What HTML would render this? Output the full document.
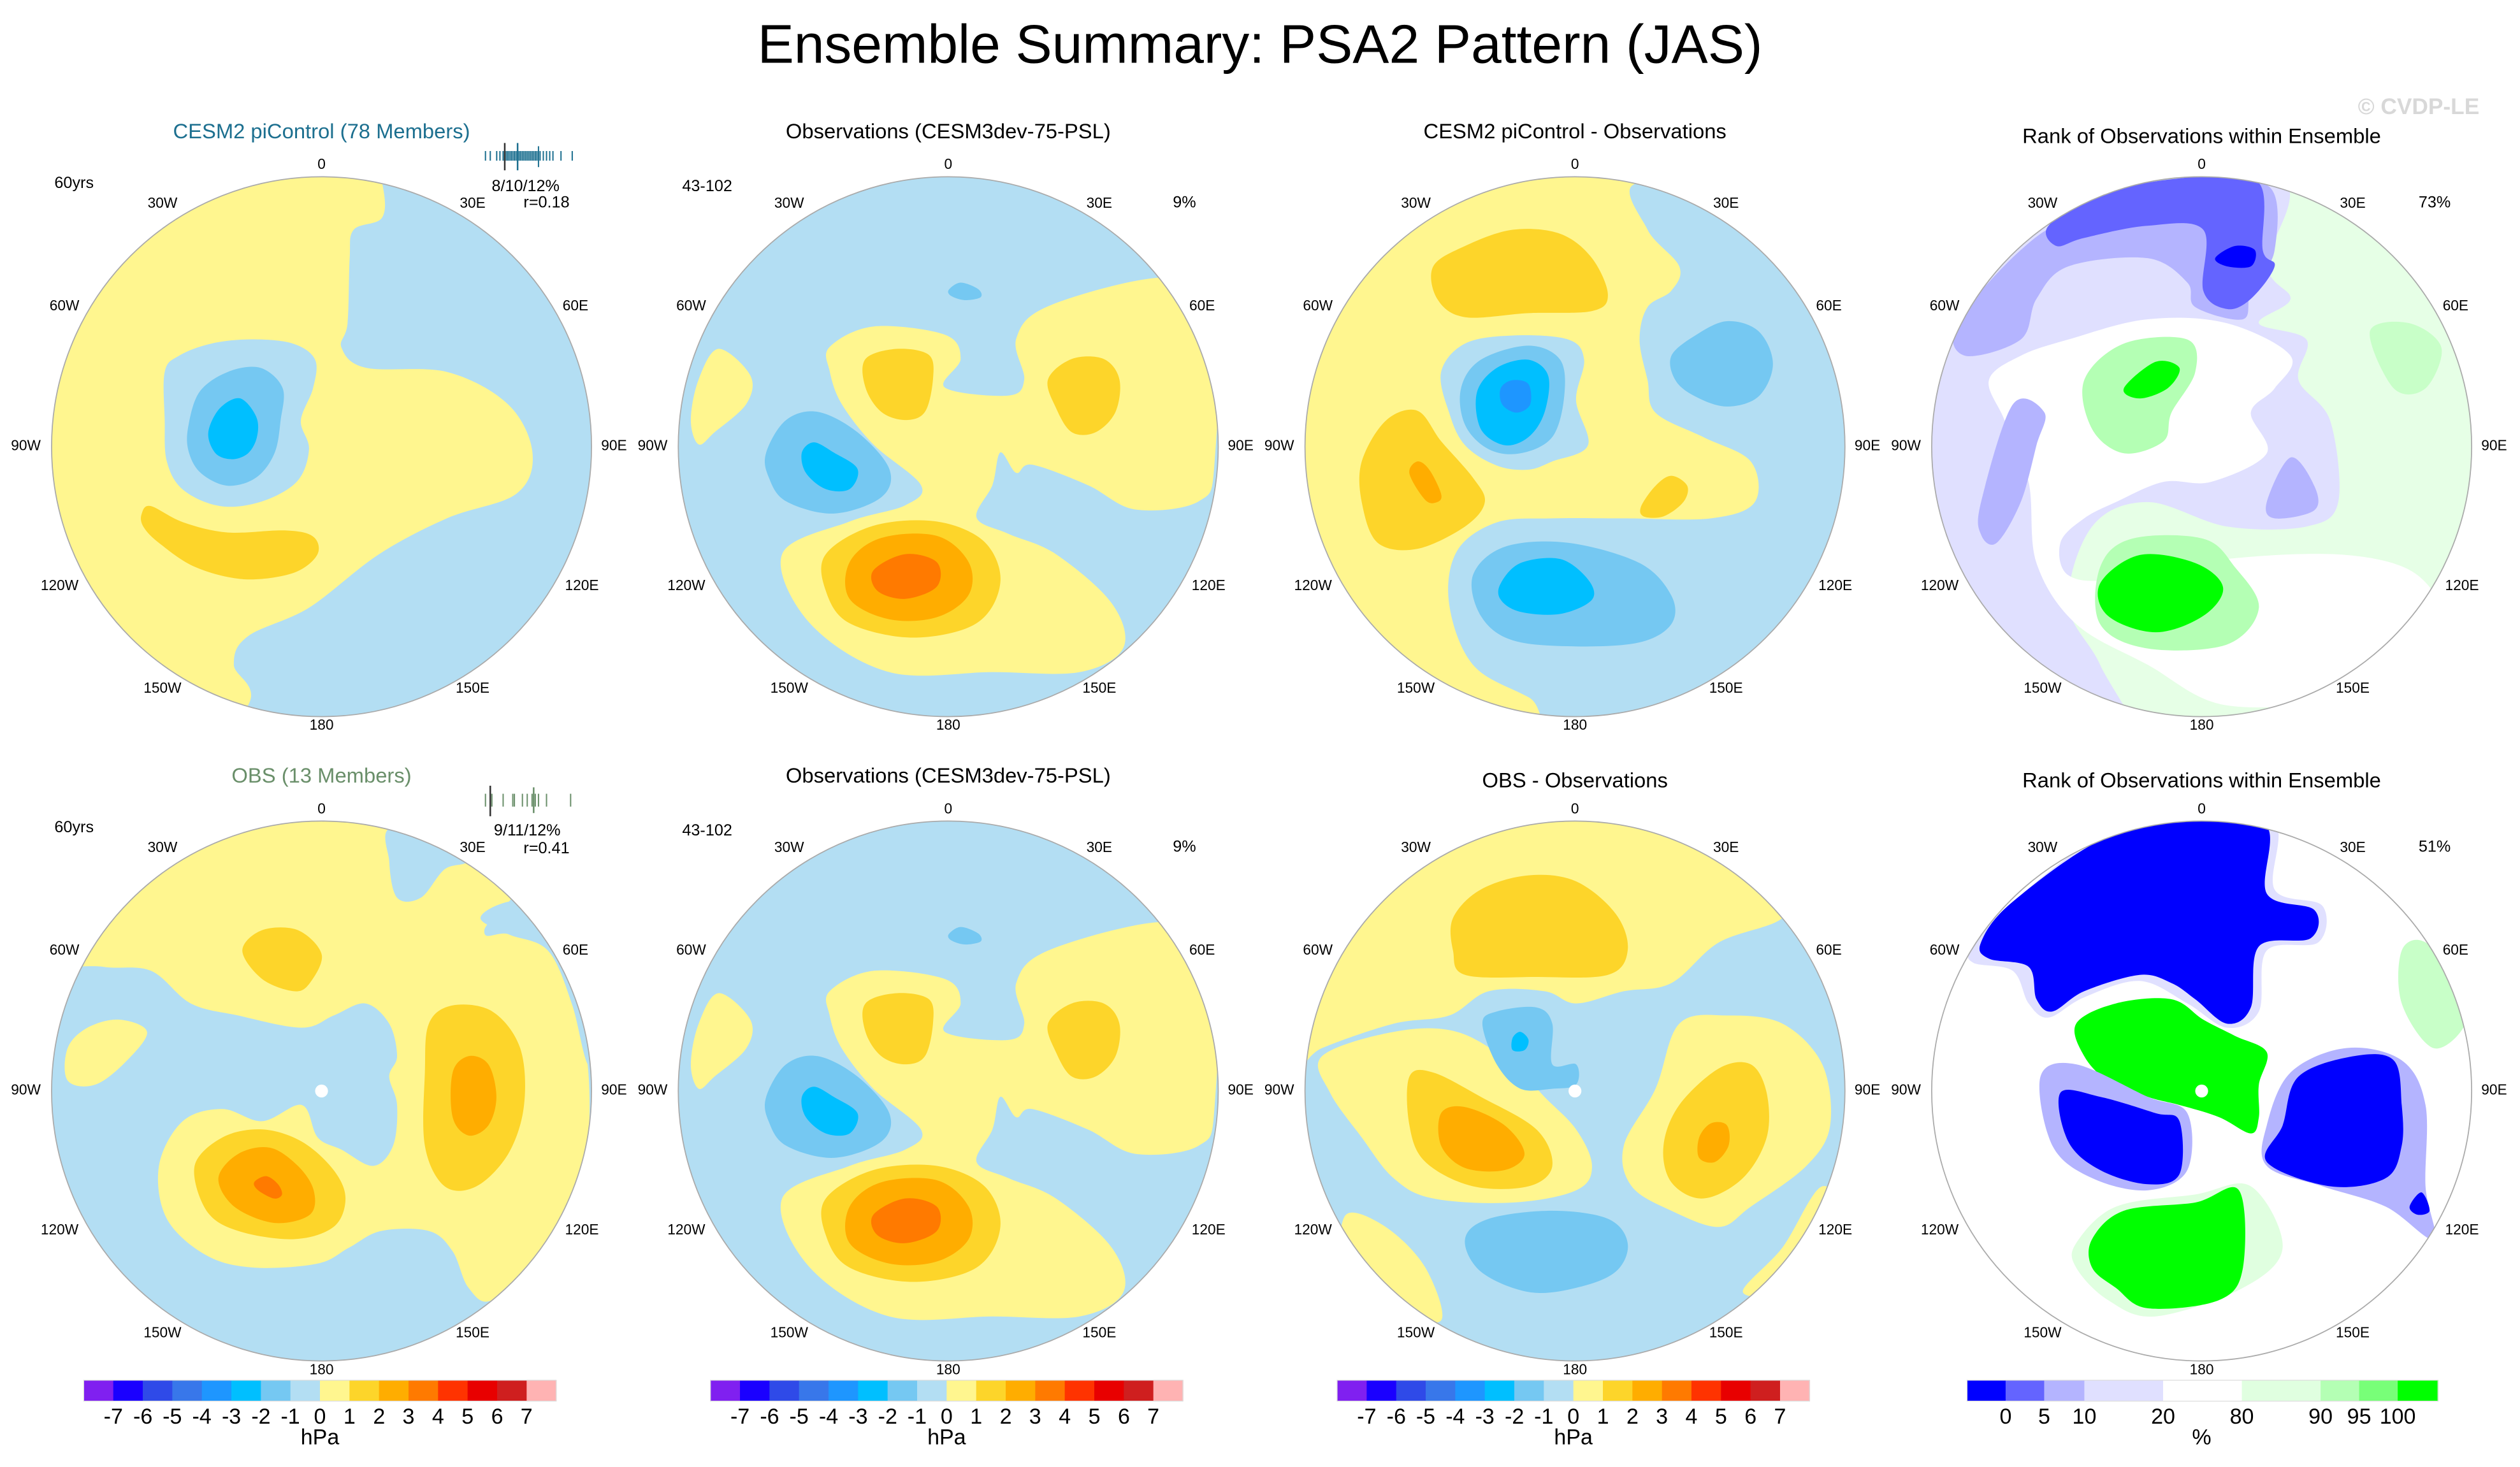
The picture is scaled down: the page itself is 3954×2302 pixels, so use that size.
<!DOCTYPE html>
<html><head><meta charset="utf-8"><title>Ensemble Summary: PSA2 Pattern (JAS)</title>
<style>html,body{margin:0;padding:0;background:#fff}svg{display:block}text{font-family:"Liberation Sans",sans-serif}</style>
</head><body>
<svg id="fig" xmlns="http://www.w3.org/2000/svg" width="3954" height="2302" viewBox="0 0 1568 913">
<rect width="1568" height="913" fill="#fff"/>
<text x="784" y="39" font-size="34" text-anchor="middle">Ensemble Summary: PSA2 Pattern (JAS)</text>
<text x="1505" y="71" font-size="14" font-weight="bold" fill="#d8d8d8" text-anchor="middle">© CVDP-LE</text>
<g id="panels"></g>
<g id="bars"></g>
</svg>
<script>
const hpaColors=['#8020f0','#1a00ff','#2f4ae8','#3877ea','#1e96ff','#00bfff','#75c8f2','#b3def3','#fff68f','#fdd52a','#ffad00','#ff7a00','#ff3300','#e80000','#cf1f1f','#ffb3b3'];
const hpaLabels=['-7','-6','-5','-4','-3','-2','-1','0','1','2','3','4','5','6','7'];
const rankColors=['#0000ff','#6464ff','#b4b4ff','#e0e0ff','#ffffff','#e0ffe0','#b4ffb4','#78ff78','#00ff00'];
const rankLabels=['0','5','10','20','80','90','95','100'];
const rankEdges=[1224,1248,1272,1297,1346,1395,1444,1468,1492,1517];
const lonLabels=['0','30E','60E','90E','120E','150E','180','150W','120W','90W','60W','30W'];
const lonOffX=[0,94,158,182,162,94,0,-99,-163,-184,-160,-99];
const lonOffY=[-176,-152,-88,-1,86,150,173,150,86,-1,-88,-152];

const NS='http://www.w3.org/2000/svg';
function mk(tag,attrs,parent){const e=document.createElementNS(NS,tag);for(const k in attrs)e.setAttribute(k,attrs[k]);if(parent)parent.appendChild(e);return e;}
function smooth(pts){let d='';const n=pts.length;for(let i=0;i<n;i++){const p0=pts[(i-1+n)%n],p1=pts[i],p2=pts[(i+1)%n],p3=pts[(i+2)%n];if(i===0)d+='M'+p1[0].toFixed(1)+','+p1[1].toFixed(1);const c1=[p1[0]+(p2[0]-p0[0])/6,p1[1]+(p2[1]-p0[1])/6],c2=[p2[0]-(p3[0]-p1[0])/6,p2[1]-(p3[1]-p1[1])/6];d+='C'+c1[0].toFixed(1)+','+c1[1].toFixed(1)+' '+c2[0].toFixed(1)+','+c2[1].toFixed(1)+' '+p2[0].toFixed(1)+','+p2[1].toFixed(1);}return d+'Z';}
const Z1=p=>[p[0]*0.2529,59.5+p[1]*0.2529];
const Z3=p=>[793+p[0]*0.494,59.5+p[1]*0.253];
const Z4=p=>[p[0]*0.494,460+p[1]*0.253];
const Z5=p=>[793+p[0]*0.494,460+p[1]*0.253];
const T2=p=>[p[0]*0.494,59+p[1]*0.253];
const LB='#b3def3',YL='#fff68f',Y2='#fdd52a',O3='#ffad00',O4='#ff7a00',B2='#75c8f2',B3='#00bfff',B4='#1e96ff';

const p1Shapes=[
[YL,[[940,215],[940,300],[870,330],[860,400],[855,560],[840,620],[900,670],[1100,680],[1250,760],[1310,880],[1270,980],[1100,1040],[930,1130],[760,1260],[610,1330],[575,1400],[610,1500],[400,1700],[-100,900],[400,50],[900,100]]],
[LB,[[405,680],[440,640],[520,610],[620,600],[720,610],[775,650],[770,720],[740,800],[760,870],[730,950],[640,1000],[540,1010],[450,970],[410,900],[405,800]]],
[B2,[[462,820],[490,730],[560,680],[640,670],[695,720],[690,800],[675,880],[630,940],[560,960],[495,930],[465,880]]],
[B3,[[512,830],[540,770],[590,745],[630,790],[632,840],[610,880],[570,895],[530,880]]],
[Y2,[[348,1030],[370,1010],[450,1050],[560,1075],[700,1070],[770,1085],[780,1130],[720,1175],[600,1190],[480,1160],[390,1100],[352,1060]]]
];
const p2Shapes=[
[YL,[[1045,620],[1100,570],[1190,590],[1210,650],[1190,720],[1270,740],[1290,700],[1280,600],[1320,520],[1460,450],[1530,500],[1530,900],[1510,1000],[1430,1020],[1370,960],[1300,910],[1280,930],[1260,880],[1250,960],[1230,1040],[1270,1080],[1330,1130],[1400,1250],[1415,1360],[1360,1420],[1250,1420],[1120,1420],[1020,1300],[985,1130],[1070,1050],[1140,1010],[1160,960],[1100,860],[1060,760],[1045,680]]],
[YL,[[905,625],[945,690],[940,760],[900,830],[880,860],[870,800],[880,700]]],
[Y2,[[1090,650],[1130,625],[1170,640],[1175,700],[1165,780],[1140,800],[1110,780],[1090,720]]],
[Y2,[[1320,700],[1350,650],[1390,650],[1410,700],[1405,780],[1380,830],[1350,830],[1330,770]]],
[Y2,[[1040,1130],[1100,1060],[1180,1050],[1240,1100],[1260,1200],[1230,1300],[1150,1335],[1070,1300],[1040,1220]]],
[O3,[[1070,1150],[1110,1090],[1180,1085],[1220,1150],[1220,1230],[1180,1285],[1120,1290],[1070,1240]]],
[O4,[[1100,1170],[1140,1130],[1180,1150],[1180,1210],[1140,1240],[1105,1220]]],
[B2,[[965,880],[990,800],[1030,780],[1080,830],[1120,920],[1110,990],[1050,1030],[990,1000],[968,940]]],
[B3,[[1010,880],[1025,855],[1050,880],[1080,920],[1070,970],[1040,970],[1015,930]]],
[B2,[[1195,480],[1210,462],[1232,478],[1235,498],[1215,505],[1198,495]]]
];
const p3Shapes=[
[LB,[[460,215],[470,330],[510,420],[500,480],[470,520],[460,600],[470,700],[480,780],[540,840],[600,900],[605,1000],[550,1040],[440,1040],[350,1040],[280,1050],[230,1120],[220,1250],[250,1400],[320,1480],[400,1560],[800,1300],[760,800],[650,300]]],
[LB,[[210,680],[240,610],[300,590],[370,600],[390,650],[380,750],[395,860],[350,900],[320,920],[280,910],[240,860],[220,780]]],
[B2,[[235,720],[260,650],[320,615],[360,650],[365,740],[350,840],[310,880],[270,870],[240,810]]],
[B3,[[255,730],[280,670],[320,650],[345,690],[340,780],[320,840],[290,860],[260,820]]],
[B4,[[285,720],[300,700],[320,710],[322,760],[305,780],[287,760]]],
[B2,[[500,640],[530,590],[570,555],[610,580],[628,660],[610,740],[570,765],[530,740],[505,700]]],
[B2,[[250,1180],[290,1110],[370,1100],[460,1150],[500,1230],[500,1300],[460,1345],[380,1355],[300,1340],[260,1280]]],
[B3,[[285,1200],[310,1150],[360,1140],[395,1190],[400,1240],[360,1275],[310,1270],[285,1240]]],
[Y2,[[200,420],[240,370],[300,330],[360,340],[400,400],[420,490],[400,530],[320,535],[240,545],[205,500]]],
[Y2,[[110,900],[140,800],[180,775],[210,850],[250,940],[265,1000],[240,1060],[180,1115],[130,1100],[110,1000]]],
[O3,[[170,930],[180,900],[195,920],[210,980],[205,1000],[190,995]]],
[Y2,[[462,1010],[480,960],[500,935],[520,960],[515,1000],[490,1035],[465,1035]]]
];
const p4Shapes=[
['#e0e0ff',[[840,400],[1250,200],[1250,420],[1280,500],[1240,560],[1300,600],[1290,700],[1330,800],[1340,1000],[1300,1060],[1200,1060],[1100,1000],[1030,1060],[1000,1250],[1040,1400],[1080,1600],[800,1200]]],
['#ffffff',[[1000,600],[1100,550],[1200,560],[1280,640],[1260,720],[1230,780],[1250,880],[1180,950],[1120,950],[1060,1000],[1020,1040],[990,1100],[1000,1180],[1060,1190],[1200,1140],[1350,1130],[1440,1180],[1460,1300],[1350,1470],[1200,1500],[1100,1400],[1010,1300],[960,1150],[950,950],[920,800],[900,700],[940,640]]],
['#b4b4ff',[[860,560],[940,380],[1010,300],[1140,260],[1250,220],[1260,380],[1230,480],[1220,550],[1160,520],[1150,460],[1100,400],[1000,420],[960,500],[940,600],[870,640]]],
['#6464ff',[[975,320],[1040,240],[1160,200],[1240,215],[1245,380],[1260,420],[1230,500],[1200,525],[1170,480],[1170,330],[1100,320],[1020,350],[985,370]]],
['#0000ff',[[1185,400],[1210,370],[1235,380],[1230,420],[1200,420]]],
['#b4b4ff',[[890,1000],[930,760],[970,780],[960,860],[940,1000],[910,1100],[890,1080]]],
['#b4b4ff',[[1250,1000],[1280,890],[1310,960],[1310,1020],[1260,1040]]],
['#b4ffb4',[[1020,700],[1070,610],[1150,600],[1160,680],[1130,780],[1120,850],[1070,880],[1030,820]]],
['#00ff00',[[1070,720],[1110,655],[1140,670],[1125,720],[1090,745]]],
['#b4ffb4',[[1040,1160],[1080,1090],[1170,1090],[1210,1160],[1240,1260],[1200,1350],[1100,1360],[1040,1300]]],
['#00ff00',[[1040,1200],[1090,1130],[1160,1150],[1195,1210],[1170,1280],[1110,1320],[1050,1280]]],
['#c8ffc8',[[1380,580],[1430,560],[1470,620],[1450,720],[1410,720]]]
];
const p5Shapes=[
[YL,[[404,150],[650,300],[610,470],[640,480],[690,520],[720,650],[740,800],[740,1000],[720,1130],[680,1270],[620,1380],[590,1350],[570,1260],[540,1210],[480,1210],[440,1250],[400,1290],[320,1300],[260,1270],[210,1180],[200,1050],[230,940],[280,910],[330,940],[380,900],[400,980],[430,1010],[470,1050],[495,1000],[500,900],[490,830],[500,780],[490,700],[460,650],[420,680],[380,710],[300,680],[240,650],[190,570],[130,560],[60,530],[100,300],[250,200]]],
[LB,[[495,215],[600,240],[590,300],[560,320],[530,390],[500,390],[490,300]]],
[LB,[[605,440],[640,400],[700,400],[780,600],[760,800],[740,800],[720,650],[690,520],[640,480]]],
[YL,[[85,760],[110,710],[150,690],[185,720],[160,790],[120,850],[85,840]]],
[Y2,[[305,520],[330,470],[375,470],[405,530],[390,600],[370,620],[330,590]]],
[Y2,[[540,700],[570,655],[620,670],[655,760],[660,900],[640,1020],[600,1100],[560,1100],[535,1000],[535,820]]],
[O3,[[570,820],[590,780],[615,800],[625,880],[615,950],[590,975],[570,930]]],
[Y2,[[245,1050],[280,980],[330,960],[380,990],[420,1060],[435,1130],[420,1200],[370,1230],[300,1210],[260,1160]]],
[O3,[[275,1080],[300,1020],[340,1005],[375,1050],[395,1110],[390,1170],[345,1190],[295,1150]]],
[O4,[[320,1090],[335,1075],[350,1095],[355,1120],[345,1130],[325,1110]]]
];
const p7Shapes=[
[YL,[[30,620],[100,300],[380,150],[650,350],[640,440],[560,500],[500,600],[440,620],[380,650],[340,620],[270,620],[220,680],[150,700],[60,760],[30,800]]],
[YL,[[60,780],[150,720],[230,720],[300,800],[340,880],[380,960],[400,1050],[380,1110],[300,1140],[200,1130],[150,1080],[110,980],[70,870]]],
[YL,[[440,1000],[480,860],[510,700],[570,680],[640,700],[690,800],[700,950],[670,1050],[600,1150],[560,1200],[500,1160],[450,1100]]],
[YL,[[90,1170],[140,1200],[190,1300],[210,1430],[150,1400],[90,1300]]],
[YL,[[590,1360],[640,1250],[690,1100],[720,1200],[650,1350]]],
[Y2,[[170,830],[200,820],[260,880],[330,960],[350,1050],[320,1100],[250,1100],[190,1040],[170,950]]],
[O3,[[210,920],[240,905],[290,950],[315,1020],[290,1060],[240,1055],[210,1000]]],
[Y2,[[490,1000],[510,900],[560,810],[600,800],[620,870],[620,980],[590,1080],[540,1130],[500,1090]]],
[O3,[[535,980],[550,945],[570,950],[572,1000],[555,1040],[535,1030]]],
[Y2,[[225,440],[260,370],[320,335],[380,350],[430,430],[445,520],[420,580],[330,585],[240,580],[225,520]]],
[B2,[[262,700],[280,670],[330,660],[350,700],[350,800],[380,800],[380,850],[350,860],[310,860],[280,800]]],
[B3,[[300,735],[310,720],[320,740],[315,765],[300,765]]],
[B2,[[240,1230],[270,1180],[350,1160],[420,1180],[445,1240],[430,1310],[380,1350],[320,1360],[260,1310]]]
];
const p8Shapes=[
['#e0e0ff',[[880,510],[930,400],[1050,230],[1170,190],[1260,205],[1260,370],[1320,410],[1315,500],[1250,520],[1240,670],[1200,710],[1150,650],[1090,595],[1020,635],[975,685],[950,650],[930,570],[880,550]]],
['#0000ff',[[890,500],[930,400],[1050,240],[1170,200],[1250,215],[1250,380],[1310,420],[1305,490],[1240,510],[1230,660],[1200,700],[1160,640],[1130,600],[1090,580],[1020,620],[980,670],[960,640],[950,560],[900,540]]],
['#00ff00',[[1010,700],[1060,650],[1130,640],[1170,690],[1210,730],[1250,770],[1240,850],[1240,930],[1230,970],[1190,930],[1140,900],[1100,880],[1050,840],[1020,780]]],
['#b4b4ff',[[965,830],[1010,800],[1100,880],[1150,920],[1150,1060],[1100,1110],[1030,1080],[980,1000]]],
['#0000ff',[[990,870],[1040,880],[1110,920],[1140,940],[1140,1070],[1100,1095],[1040,1060],[1000,990]]],
['#b4b4ff',[[1280,820],[1350,760],[1420,790],[1450,900],[1450,1100],[1460,1230],[1400,1150],[1320,1100],[1250,1050],[1250,950]]],
['#0000ff',[[1290,830],[1360,780],[1410,790],[1420,900],[1420,1000],[1400,1080],[1330,1100],[1250,1040],[1270,950]]],
['#0000ff',[[1430,1150],[1445,1115],[1455,1160],[1440,1170]]],
['#e0ffe0',[[1010,1240],[1060,1150],[1160,1120],[1230,1100],[1270,1250],[1220,1350],[1110,1420],[1050,1380],[1010,1300]]],
['#00ff00',[[1030,1230],[1070,1160],[1160,1140],[1215,1110],[1220,1300],[1190,1380],[1100,1400],[1060,1350],[1030,1300]]],
['#c8ffc8',[[1420,520],[1450,500],[1490,600],[1500,700],[1460,760],[1420,650]]]
];

const panels=[
{name:'cesm2-picontrol-map',cx:200,cy:278,bg:LB,tf:Z1,shapes:p1Shapes,title:'CESM2 piControl (78 Members)',tcol:'#1c6f8f',ty:81},
{name:'observations-map-top',cx:590,cy:278,bg:LB,tf:T2,shapes:p2Shapes,title:'Observations (CESM3dev-75-PSL)',tcol:'#000',ty:81},
{name:'cesm2-minus-obs-map',cx:980,cy:278,bg:YL,tf:Z3,shapes:p3Shapes,title:'CESM2 piControl - Observations',tcol:'#000',ty:81},
{name:'rank-map-top',cx:1370,cy:278,bg:'#e6ffe6',tf:Z3,shapes:p4Shapes,title:'Rank of Observations within Ensemble',tcol:'#000',ty:84},
{name:'obs-ensemble-map',cx:200,cy:679,bg:LB,tf:Z4,shapes:p5Shapes,title:'OBS (13 Members)',tcol:'#6a8f6a',ty:482,dot:true},
{name:'observations-map-bottom',cx:590,cy:679,bg:LB,tf:Z4,shapes:p2Shapes,title:'Observations (CESM3dev-75-PSL)',tcol:'#000',ty:482},
{name:'obs-minus-obs-map',cx:980,cy:679,bg:LB,tf:Z5,shapes:p7Shapes,title:'OBS - Observations',tcol:'#000',ty:485,dot:true},
{name:'rank-map-bottom',cx:1370,cy:679,bg:'#ffffff',tf:Z5,shapes:p8Shapes,title:'Rank of Observations within Ensemble',tcol:'#000',ty:485,dot:true}
];

const G=document.getElementById('panels');
panels.forEach((P,i)=>{
  const g=mk('g',{},G);
  
  
  const defs=mk('defs',{},g);
  const cp=mk('clipPath',{id:'clip'+i},defs);
  mk('circle',{cx:P.cx,cy:P.cy,r:168},cp);
  const fg=mk('g',{'clip-path':'url(#clip'+i+')'},g);
  mk('rect',{x:P.cx-170,y:P.cy-170,width:340,height:340,fill:P.bg},fg);
  P.shapes.forEach(s=>{
    const pts=s[1].map(p=>P.tf(p));
    const el=mk('path',{d:smooth(pts),fill:s[0]},fg);
    
    
  });
  if(P.dot){mk('circle',{cx:P.cx,cy:P.cy,r:4,fill:'#fff'},fg);}
  const ring=mk('circle',{cx:P.cx,cy:P.cy,r:168,fill:'none',stroke:'#aaa','stroke-width':0.7},g);
  
  
  const t=mk('text',{x:P.cx,y:P.ty+5,'font-size':13,'text-anchor':'middle',fill:P.tcol},g);
  t.textContent=P.title;
  
  
  lonLabels.forEach((L,k)=>{
    const lt=mk('text',{x:P.cx+lonOffX[k],y:P.cy+lonOffY[k]+3.2,'font-size':9,'text-anchor':'middle'},g);
    lt.textContent=L;
    
    
  });
});

function txt(s,x,y,fs,name,anchor,col){const t=mk('text',{x:x,y:y,'font-size':fs,'text-anchor':anchor||'middle',fill:col||'#000'},document.getElementById('fig'));t.textContent=s;return t;}
txt('60yrs',46,117,10,'years-label');
txt('60yrs',46,518,10,'years-label');
txt('43-102',440,119,10,'years-label');
txt('43-102',440,520,10,'years-label');
txt('9%',737,129,10,'percent-label');
txt('9%',737,530,10,'percent-label');
txt('73%',1515,129,10,'percent-label');
txt('51%',1515,530,10,'percent-label');
txt('8/10/12%',327,119,10,'spread-stats');
txt('r=0.18',340,129,10,'pattern-correlation');
txt('9/11/12%',328,520,10,'spread-stats');
txt('r=0.41',340,531,10,'pattern-correlation');

const fig=document.getElementById('fig');
const bc1=[302,305,309,311,313,314,315,316,317,318,319,320,321,322,323,324,325,326,327,328,329,330,331,332,333,334,335,336,338,340,342,344,349,356];
const bc2=[302,306,313,319,320,325,328,331,333,335,340,355];
const g1=mk('g',{},fig);
bc1.forEach(x=>mk('line',{x1:x,x2:x,y1:94,y2:100,stroke:'#1c6f8f','stroke-width':0.8},g1));
mk('line',{x1:314,x2:314,y1:89,y2:106,stroke:'#333','stroke-width':1},g1);
mk('line',{x1:322,x2:322,y1:89,y2:106,stroke:'#1c6f8f','stroke-width':1},g1);
mk('line',{x1:335,x2:335,y1:91,y2:104,stroke:'#1c6f8f','stroke-width':0.8},g1);
const g2=mk('g',{},fig);
bc2.forEach(x=>mk('line',{x1:x,x2:x,y1:494,y2:502,stroke:'#6a8f6a','stroke-width':0.8},g2));
mk('line',{x1:305,x2:305,y1:489,y2:508,stroke:'#333','stroke-width':1},g2);
mk('line',{x1:332,x2:332,y1:490,y2:506,stroke:'#6a8f6a','stroke-width':1},g2);

const B=document.getElementById('bars');
[52,442,832].forEach(x0=>{
  const g=mk('g',{},B);
  
  
  const w=294/hpaColors.length;
  hpaColors.forEach((c,k)=>mk('rect',{x:(x0+k*w).toFixed(2),y:859,width:(w+0.3).toFixed(2),height:13,fill:c},g));
  mk('rect',{x:x0,y:859,width:294,height:13,fill:'none',stroke:'#ddd','stroke-width':0.5},g);
  hpaLabels.forEach((L,k)=>{const t=mk('text',{x:(x0+(k+1)*w).toFixed(1),y:886,'font-size':13.5,'text-anchor':'middle'},g);t.textContent=L;});
  const u=mk('text',{x:x0+147,y:899,'font-size':13.5,'text-anchor':'middle'},g);u.textContent='hPa';
});
const gr=mk('g',{},B);


rankColors.forEach((c,k)=>mk('rect',{x:rankEdges[k],y:859,width:rankEdges[k+1]-rankEdges[k]+0.3,height:13,fill:c},gr));
mk('rect',{x:1224,y:859,width:293,height:13,fill:'none',stroke:'#ddd','stroke-width':0.5},gr);
rankLabels.forEach((L,k)=>{const t=mk('text',{x:rankEdges[k+1],y:886,'font-size':13.5,'text-anchor':'middle'},gr);t.textContent=L;});
const pu=mk('text',{x:1370,y:899,'font-size':13.5,'text-anchor':'middle'},gr);pu.textContent='%';
</script>
</body></html>
